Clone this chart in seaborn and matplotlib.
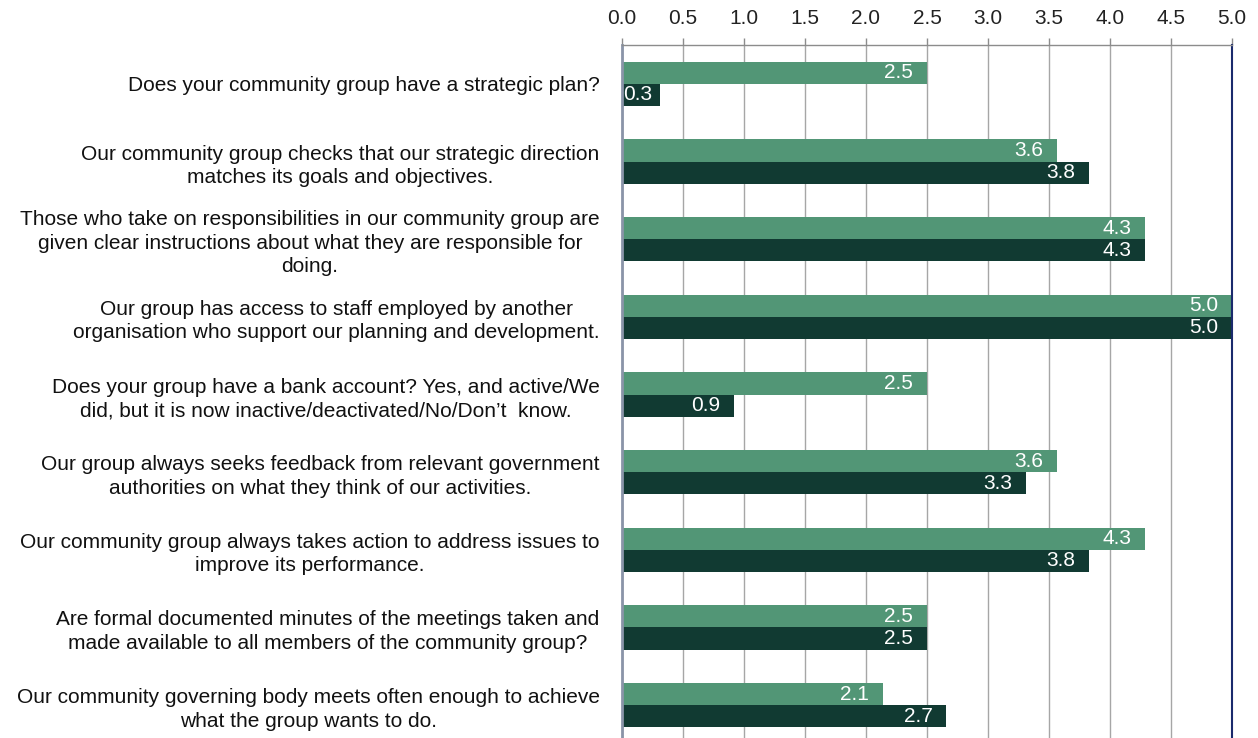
import matplotlib
matplotlib.use("Agg")
import matplotlib.pyplot as plt
import seaborn as sns
import pandas as pd
import numpy as np

categories = [
    "Does your community group have a strategic plan?",
    "Our community group checks that our strategic direction\nmatches its goals and objectives.",
    "Those who take on responsibilities in our community group are\ngiven clear instructions about what they are responsible for\ndoing.",
    "Our group has access to staff employed by another\norganisation who support our planning and development.",
    "Does your group have a bank account? Yes, and active/We\ndid, but it is now inactive/deactivated/No/Don\u2019t  know.",
    "Our group always seeks feedback from relevant government\nauthorities on what they think of our activities.",
    "Our community group always takes action to address issues to\nimprove its performance.",
    "Are formal documented minutes of the meetings taken and\nmade available to all members of the community group?",
    "Our community governing body meets often enough to achieve\nwhat the group wants to do.",
]
series_names = ["Series 1", "Series 2"]
series_1 = [2.50, 3.57, 4.29, 5.00, 2.50, 3.57, 4.29, 2.50, 2.14]
series_2 = [0.31, 3.83, 4.29, 5.00, 0.92, 3.31, 3.83, 2.50, 2.66]
x_ticks = [0.0, 0.5, 1.0, 1.5, 2.0, 2.5, 3.0, 3.5, 4.0, 4.5, 5.0]

colors = ["#529676", "#113a32"]

df = pd.DataFrame({
    "category": categories * 2,
    "value": series_1 + series_2,
    "series": [series_names[0]] * len(categories) + [series_names[1]] * len(categories),
})

sns.set_style("white")
plt.rcParams["font.family"] = ["Liberation Sans", "DejaVu Sans"]

FS = 15

fig = plt.figure(figsize=(12.58, 7.38), dpi=100)
ax = fig.add_axes([0.4944, -0.0081, 0.4849, 0.947])

sns.barplot(data=df, y="category", x="value", hue="series", orient="h",
            palette=colors, width=0.57, legend=False, ax=ax, saturation=1,
            linewidth=0)

ax.set_xlim(0, 5)
ax.set_ylim(len(categories) - 0.5, -0.5)
ax.set_xlabel("")
ax.set_ylabel("")

# value labels inside the bar ends (short bars get theirs at the bar start)
for container in ax.containers:
    for patch in container:
        w = patch.get_width()
        yc = patch.get_y() + patch.get_height() / 2
        if w < 0.5:
            ax.annotate(f"{w:.1f}", xy=(0, yc), xytext=(1, 0), textcoords="offset points",
                        ha="left", va="center", color="white", fontsize=FS)
        else:
            ax.annotate(f"{w:.1f}", xy=(w, yc), xytext=(-10, 0), textcoords="offset points",
                        ha="right", va="center", color="white", fontsize=FS)

# x axis on top with vertical gridlines
ax.xaxis.tick_top()
ax.set_xticks(x_ticks)
ax.set_xticklabels([f"{t:.1f}" for t in x_ticks])
ax.tick_params(axis="x", which="major", direction="out", length=5, width=1,
               color="#8c8c8c", labelsize=FS, labelcolor="#222222", pad=7)
ax.grid(axis="x", color="#a6a6a6", linewidth=1)
ax.set_axisbelow(True)

# category labels, with ticks between the groups
ax.set_yticks(range(len(categories)))
ax.set_yticklabels(categories, fontsize=FS, color="#111111",
                   multialignment="center", linespacing=1.3)
ax.tick_params(axis="y", which="major", length=0, pad=16)
ax.set_yticks(np.arange(0.5, len(categories) - 0.5, 1), minor=True)
ax.tick_params(axis="y", which="minor", direction="out", length=6, width=1, color="#8c8c8c")

for side in ["top", "bottom"]:
    ax.spines[side].set_color("#8c8c8c")
    ax.spines[side].set_linewidth(1)
ax.spines["left"].set_color("#8a94a8")
ax.spines["left"].set_linewidth(2)
ax.spines["right"].set_color("#1a2a6c")
ax.spines["right"].set_linewidth(1.5)

fig.savefig("out.png", dpi=100)
